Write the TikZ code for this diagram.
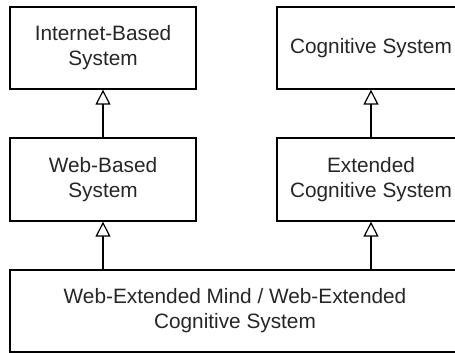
\documentclass[tikz,border=0pt]{standalone}
\usepackage{fontspec}
\setmainfont{Liberation Sans}
\usetikzlibrary{arrows.meta}
\begin{document}
\begin{tikzpicture}[x=1pt,y=-1pt,
  box/.style={draw=black, line width=1.3pt, rectangle, inner sep=0pt, align=center,
    font=\fontsize{20.8pt}{25pt}\selectfont, text=black!85},
  gen/.style={draw=black, line width=1.3pt, -{Triangle[open, length=15pt, width=15pt, line width=1.2pt]}}]
\useasboundingbox (0,0) rectangle (455,353);
\clip (0,0) rectangle (455,353);
\node[box, minimum width=186pt, minimum height=82pt] (ib) at (103,48) {Internet-Based\\System};
\node[box, minimum width=186pt, minimum height=83pt] (wb) at (103,179.5) {Web-Based\\System};
\node[box, minimum width=188pt, minimum height=82pt] (cs) at (371,48) {Cognitive System};
\node[box, minimum width=188pt, minimum height=83pt] (ecs) at (371,179.5) {Extended\\Cognitive System};
\node[box, minimum width=450pt, minimum height=82pt] (wem) at (235,311) {Web-Extended Mind / Web-Extended\\Cognitive System};
\draw[gen] (wb.north) -- (ib.south);
\draw[gen] (ecs.north) -- (cs.south);
\draw[gen] (wem.north -| wb.south) -- (wb.south);
\draw[gen] (wem.north -| ecs.south) -- (ecs.south);
\end{tikzpicture}
\end{document}
